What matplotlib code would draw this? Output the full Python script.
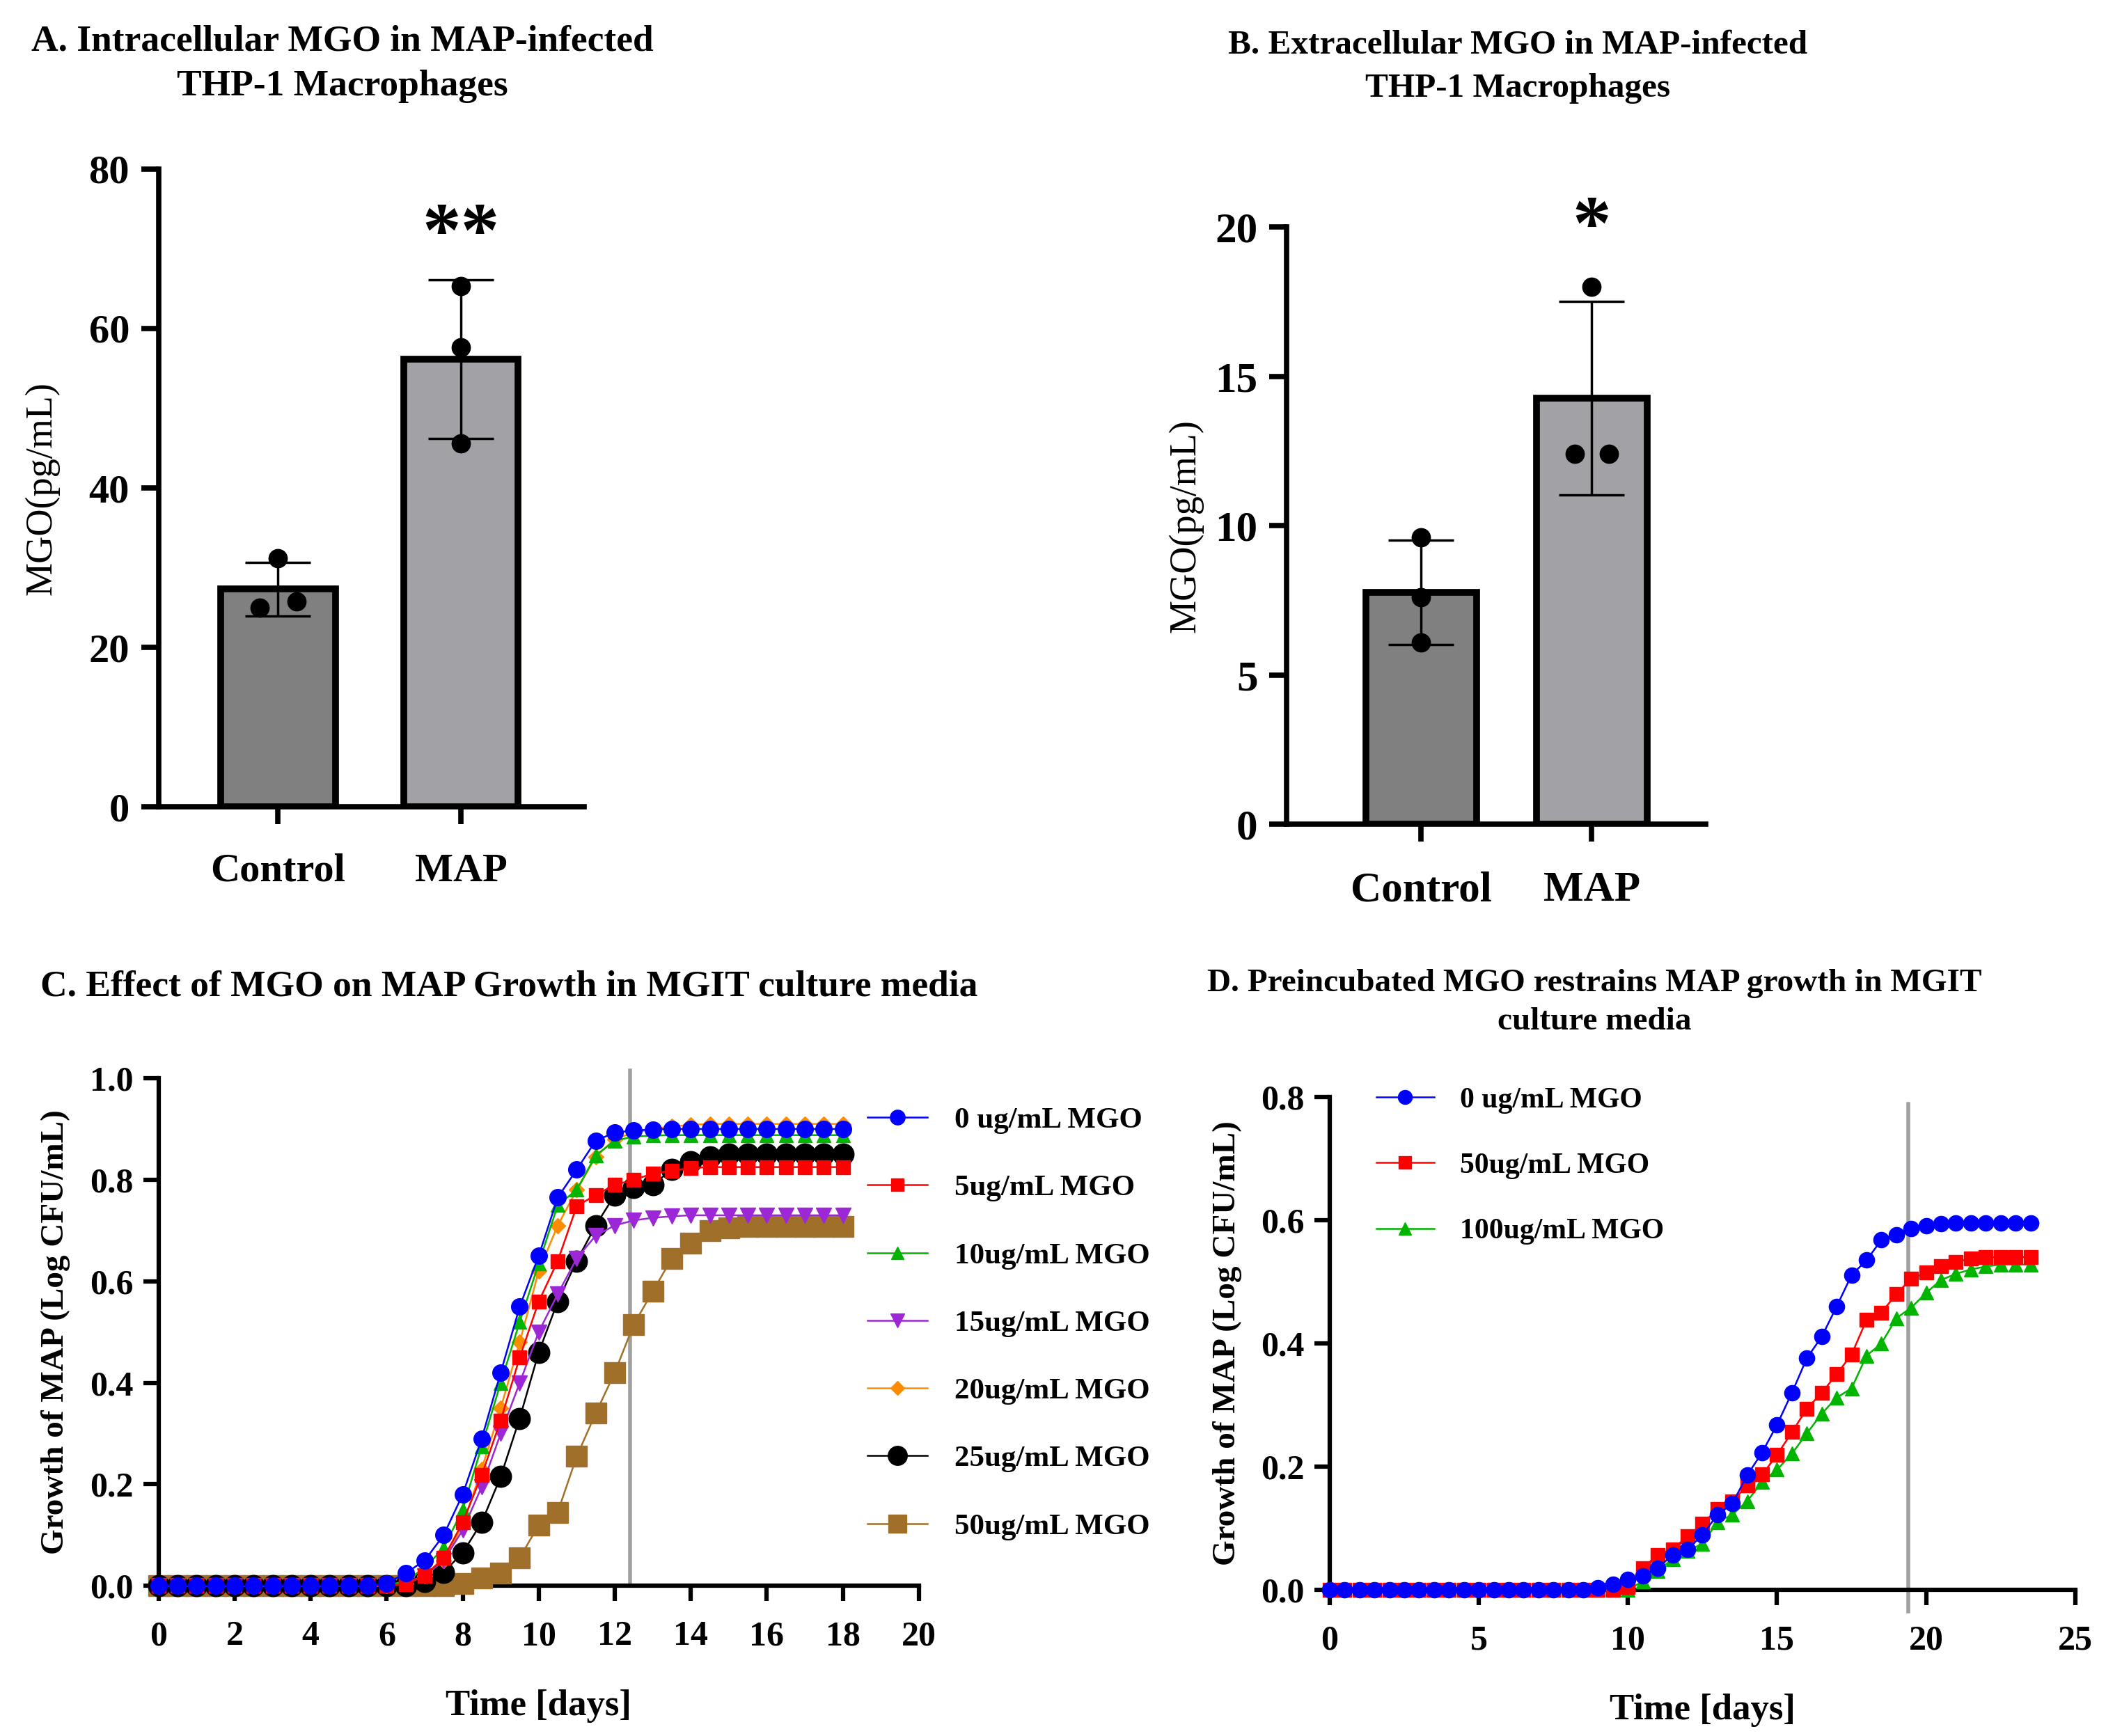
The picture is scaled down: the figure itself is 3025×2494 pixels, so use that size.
import numpy as np
import matplotlib.pyplot as plt

plt.rcParams['font.family'] = ['Liberation Serif', 'DejaVu Serif']
plt.rcParams['font.weight'] = 'bold'

# panel A / B: individual replicates (pg/mL)
groups = ['Control', 'MAP']
intra_control = [31.2, 25.0, 25.8]
intra_map = [65.3, 57.6, 45.6]
extra_control = [9.6, 7.6, 6.1]
extra_map = [18.0, 12.4, 12.4]

# panel C: growth curves, read every half day
days_c = np.arange(0, 18.5, 0.5)
mgo_0 = [0] * 12 + [0.005, 0.025, 0.05, 0.10, 0.18, 0.29, 0.42, 0.55, 0.65, 0.765,
                    0.82, 0.877, 0.893, 0.897, 0.899] + [0.90] * 10
mgo_5 = [0] * 13 + [0.003, 0.02, 0.055, 0.125, 0.218, 0.326, 0.45, 0.56, 0.64, 0.748,
                    0.77, 0.79, 0.80, 0.812, 0.818, 0.823] + [0.825] * 8
mgo_10 = [0] * 13 + [0.01, 0.035, 0.075, 0.15, 0.275, 0.40, 0.52, 0.635, 0.75, 0.78,
                     0.848, 0.877, 0.885, 0.887] + [0.888] * 10
mgo_15 = [0] * 13 + [0.005, 0.02, 0.05, 0.11, 0.195, 0.30, 0.40, 0.50, 0.575, 0.645,
                     0.69, 0.71, 0.72, 0.725, 0.728] + [0.73] * 9
mgo_20 = [0] * 13 + [0.005, 0.02, 0.05, 0.12, 0.23, 0.35, 0.48, 0.62, 0.71, 0.78,
                     0.845, 0.88, 0.893, 0.90, 0.905, 0.908] + [0.91] * 8
mgo_25 = [0] * 13 + [0.0, 0.008, 0.027, 0.065, 0.125, 0.215, 0.33, 0.46, 0.56, 0.64,
                     0.71, 0.77, 0.785, 0.79, 0.82, 0.835, 0.845] + [0.85] * 7
mgo_50 = [0] * 16 + [0.005, 0.015, 0.025, 0.055, 0.12, 0.145, 0.255, 0.34, 0.42, 0.515,
                     0.58, 0.645, 0.675, 0.70, 0.705] + [0.708] * 6
labels_c = ['0 ug/mL MGO', '5ug/mL MGO', '10ug/mL MGO', '15ug/mL MGO',
            '20ug/mL MGO', '25ug/mL MGO', '50ug/mL MGO']
cutoff_c = 12.4

# panel D: preincubated MGO
days_d = np.arange(0, 24, 0.5)
pre_0 = [0] * 18 + [0.003, 0.009, 0.017, 0.023, 0.035, 0.057, 0.066, 0.089, 0.122, 0.14,
                    0.186, 0.223, 0.268, 0.32, 0.376, 0.411, 0.46, 0.511, 0.535, 0.568,
                    0.576, 0.586, 0.591, 0.594] + [0.595] * 6
pre_50 = [0] * 20 + [0.005, 0.035, 0.057, 0.066, 0.087, 0.107, 0.131, 0.144, 0.169, 0.187,
                     0.219, 0.256, 0.294, 0.32, 0.35, 0.382, 0.438, 0.45, 0.48, 0.505,
                     0.515, 0.525, 0.532, 0.538] + [0.54] * 4
pre_100 = [0] * 21 + [0.014, 0.031, 0.05, 0.063, 0.075, 0.11, 0.122, 0.144, 0.175, 0.195,
                      0.221, 0.254, 0.286, 0.312, 0.327, 0.38, 0.40, 0.441, 0.458, 0.482,
                      0.503, 0.513, 0.52, 0.525] + [0.528] * 3
labels_d = ['0 ug/mL MGO', '50ug/mL MGO', '100ug/mL MGO']
cutoff_d = 19.4


def bar_panel(ax, control, infected, ymax, step, star, star_y, jitter_c, jitter_m, width,
              xlim, ticksize, labelpad):
    values = [control, infected]
    colors = ['#808080', '#a2a2a6']
    for i, vals in enumerate(values):
        ax.bar(i, np.mean(vals), width=width, color=colors[i], edgecolor='black',
               linewidth=7, zorder=2)
        ax.errorbar(i, np.mean(vals), yerr=np.std(vals, ddof=1), color='black',
                    capsize=34, elinewidth=2.5, capthick=2.5, zorder=3)
    ax.plot(np.array(jitter_c), control, 'o', color='black', markersize=19, zorder=4, clip_on=False)
    ax.plot(1 + np.array(jitter_m), infected, 'o', color='black', markersize=19, zorder=4, clip_on=False)
    ax.text(1, star_y, star, ha='center', va='center', fontsize=80, fontweight='bold')
    ax.set_xlim(*xlim)
    ax.set_ylim(0, ymax)
    ax.set_yticks(np.arange(0, ymax + 1, step))
    ax.set_xticks([0, 1])
    ax.set_xticklabels(groups)
    for s in ['top', 'right']:
        ax.spines[s].set_visible(False)
    for s in ['left', 'bottom']:
        ax.spines[s].set_linewidth(5.5)
    ax.tick_params(width=5.5, length=18, labelsize=ticksize, pad=12)
    ax.tick_params(axis='x', pad=30)
    ax.set_ylabel('MGO(pg/mL)', fontsize=39, fontweight='normal', labelpad=labelpad)


def curve_axes(ax, xmax, xstep, ymax, ystep):
    ax.set_xlim(0, xmax)
    ax.set_ylim(0, ymax)
    ax.set_xticks(np.arange(0, xmax + 0.1, xstep))
    ax.set_yticks(np.arange(0, ymax + 0.01, ystep))
    ax.yaxis.set_major_formatter(plt.FormatStrFormatter('%.1f'))
    for s in ['top', 'right']:
        ax.spines[s].set_visible(False)
    for s in ['left', 'bottom']:
        ax.spines[s].set_linewidth(4.5)
    ax.tick_params(width=4.5, length=16, labelsize=36, pad=10)
    ax.tick_params(axis='x', pad=20)
    ax.set_xlabel('Time [days]', fontsize=38, fontweight='bold', labelpad=38)
    ax.set_ylabel('Growth of MAP (Log CFU/mL)', fontsize=34, fontweight='bold', labelpad=20)


fig = plt.figure(figsize=(30.25, 24.94), dpi=100)

ax_a = fig.add_axes([0.0753, 0.5352, 0.2022, 0.3674])
bar_panel(ax_a, intra_control, intra_map, 80, 20, '**', 71.5, [0, -0.1, 0.1], [0, 0, 0],
          0.625, (-0.654, 1.676), 42, 30)
fig.text(0.1626, 0.9633, 'A. Intracellular MGO in MAP-infected\nTHP-1 Macrophages',
         ha='center', va='center', fontsize=38.5, linespacing=1.45)

ax_b = fig.add_axes([0.611, 0.5251, 0.199, 0.3442])
bar_panel(ax_b, extra_control, extra_map, 20, 5, '*', 19.9, [0, 0, 0], [0, -0.1, 0.1],
          0.65, (-0.787, 1.669), 44, 12)
fig.text(0.7207, 0.9615, 'B. Extracellular MGO in MAP-infected\nTHP-1 Macrophages',
         ha='center', va='center', fontsize=35.5, linespacing=1.55)

# panel C
ax_c = fig.add_axes([0.0753, 0.0865, 0.361, 0.2924])
series_c = [mgo_0, mgo_5, mgo_10, mgo_15, mgo_20, mgo_25, mgo_50]
colors_c = ['#0000ff', '#ff0000', '#00b400', '#9c27d6', '#ff8c00', '#000000', '#a0702a']
markers_c = ['o', 's', '^', 'v', 'D', 'o', 's']
sizes_c = [17, 15, 15, 16, 11, 22, 21]
for k in range(len(series_c) - 1, -1, -1):
    ax_c.plot(days_c, series_c[k], marker=markers_c[k], color=colors_c[k], markersize=sizes_c[k],
              linewidth=1.8, label=labels_c[k], zorder=3 + (7 - k), clip_on=False)
ax_c.axvline(cutoff_c, ymin=0, ymax=1.015, color='#a0a0a0', linewidth=4, zorder=2, clip_on=False)
curve_axes(ax_c, 20, 2, 1.0, 0.2)
h, l = ax_c.get_legend_handles_labels()
ax_c.legend(h[::-1], l[::-1], loc='upper left', bbox_to_anchor=(0.399, 0.378),
            bbox_transform=fig.transFigure, frameon=False, fontsize=31, handlelength=2.0,
            labelspacing=1.35, handletextpad=0.9, markerscale=0.9)
fig.text(0.0191, 0.4315, 'C. Effect of MGO on MAP Growth in MGIT culture media',
         ha='left', va='center', fontsize=38.5)

# panel D
ax_d = fig.add_axes([0.6314, 0.0842, 0.354, 0.2839])
series_d = [pre_0, pre_50, pre_100]
colors_d = ['#0000ff', '#ff0000', '#00b400']
markers_d = ['o', 's', '^']
sizes_d = [16, 15, 14]
for k in range(len(series_d) - 1, -1, -1):
    ax_d.plot(days_d, series_d[k], marker=markers_d[k], color=colors_d[k], markersize=sizes_d[k],
              linewidth=1.8, label=labels_d[k], zorder=3 + (3 - k), clip_on=False)
ax_d.axvline(cutoff_d, ymin=-0.044, ymax=0.986, color='#a0a0a0', linewidth=4, zorder=2, clip_on=False)
curve_axes(ax_d, 25, 5, 0.8, 0.2)
h, l = ax_d.get_legend_handles_labels()
ax_d.legend(h[::-1], l[::-1], loc='upper left', bbox_to_anchor=(0.641, 0.389),
            bbox_transform=fig.transFigure, frameon=False, fontsize=30, handlelength=2.0,
            labelspacing=1.35, handletextpad=0.9, markerscale=0.9)
fig.text(0.757, 0.4225, 'D. Preincubated MGO restrains MAP growth in MGIT\nculture media',
         ha='center', va='center', fontsize=34, linespacing=1.4)

fig.savefig('out.png', dpi=100)
